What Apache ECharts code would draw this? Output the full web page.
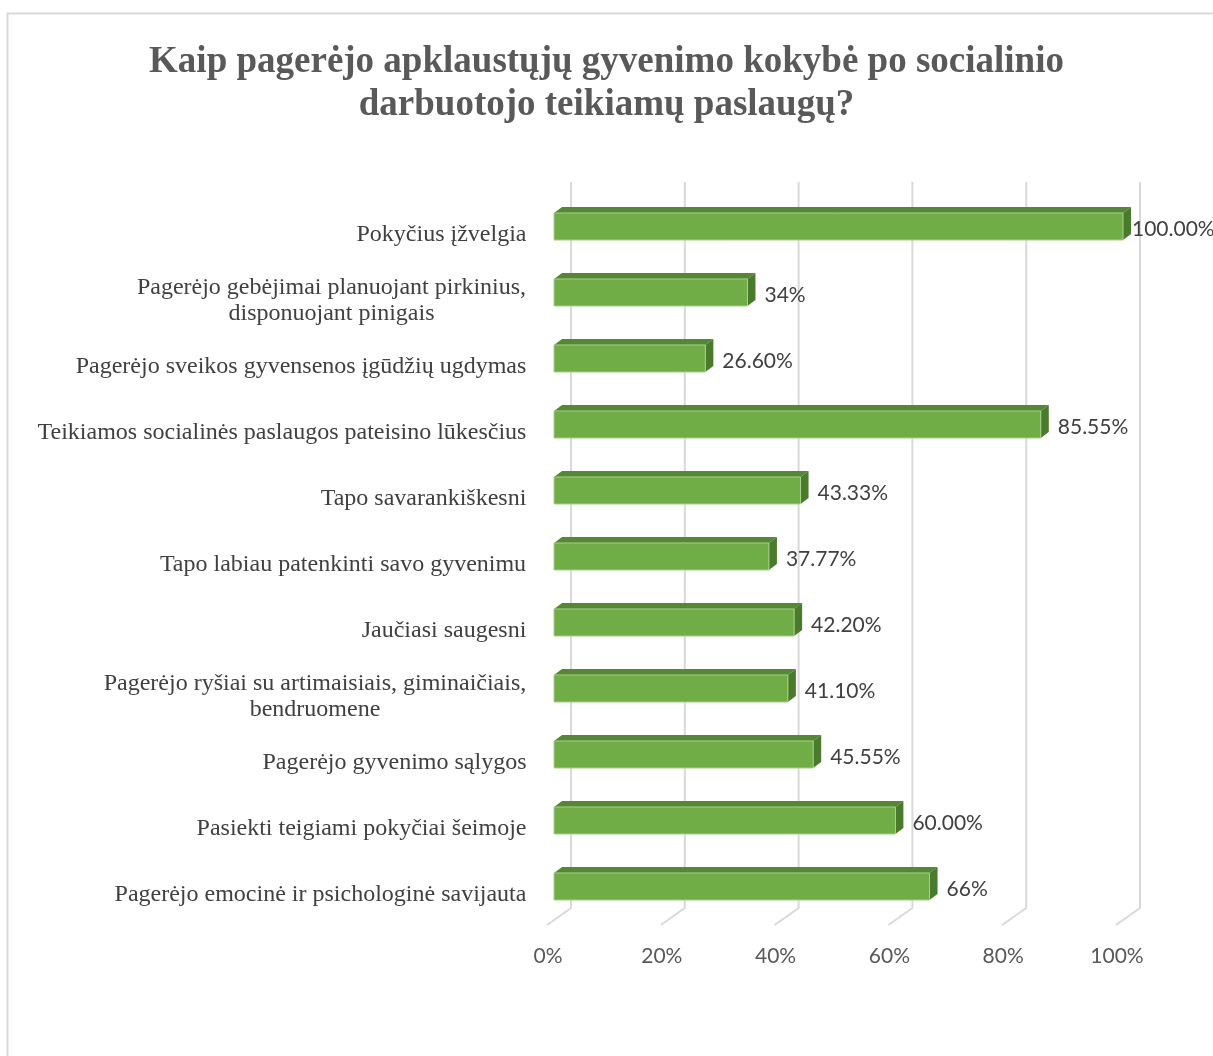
<!DOCTYPE html>
<html>
<head>
<meta charset="utf-8">
<script src="https://cdn.jsdelivr.net/npm/echarts@6/dist/echarts.min.js"></script>
<style>
html,body{margin:0;padding:0;background:#fff;}
#chart{width:1213px;height:1056px;}
</style>
</head>
<body>
<div id="chart"></div>
<script>
const categories = [
  'Pokyčius įžvelgia',
  'Pagerėjo gebėjimai planuojant pirkinius,\ndisponuojant pinigais',
  'Pagerėjo sveikos gyvensenos įgūdžių ugdymas',
  'Teikiamos socialinės paslaugos pateisino lūkesčius',
  'Tapo savarankiškesni',
  'Tapo labiau patenkinti savo gyvenimu',
  'Jaučiasi saugesni',
  'Pagerėjo ryšiai su artimaisiais, giminaičiais,\nbendruomene',
  'Pagerėjo gyvenimo sąlygos',
  'Pasiekti teigiami pokyčiai šeimoje',
  'Pagerėjo emocinė ir psichologinė savijauta'
];
const values = [1.00, 0.34, 0.266, 0.8555, 0.4333, 0.3777, 0.422, 0.411, 0.4555, 0.60, 0.66];
const valueLabels = ['100.00%', '34%', '26.60%', '85.55%', '43.33%', '37.77%', '42.20%', '41.10%', '45.55%', '60.00%', '66%'];
const ticks = [0, 0.2, 0.4, 0.6, 0.8, 1.0];
const tickLabels = ['0%', '20%', '40%', '60%', '80%', '100%'];
const titleText = 'Kaip pagerėjo apklaustųjų gyvenimo kokybė po socialinio\ndarbuotojo teikiamų paslaugų?';

const CAT_FONT = 24;
const CAT_FAMILY = '"Liberation Serif", "Times New Roman", serif';
const NUM_FAMILY = 'Lato, "Open Sans", sans-serif';

// measure multi-line label widths so lines can be centred within a right-aligned block
const ctx = document.createElement('canvas').getContext('2d');
ctx.font = CAT_FONT + 'px ' + CAT_FAMILY;
const rich = {};
categories.forEach((c, i) => {
  const lines = c.split('\n');
  const w = Math.max(...lines.map(l => ctx.measureText(l).width));
  rich['c' + i] = {
    width: Math.ceil(w) + 1, align: 'center',
    fontFamily: CAT_FAMILY, fontSize: CAT_FONT, color: '#404040', lineHeight: 26
  };
});

const chart = echarts.init(document.getElementById('chart'), null, {renderer: 'canvas'});

const option = {
  backgroundColor: '#ffffff',
  animation: false,
  graphic: [{
    type: 'rect', silent: true, z: -10,
    shape: {x: 7.5, y: 13.5, width: 1300, height: 1200},
    style: {fill: 'none', stroke: '#d9d9d9', lineWidth: 2}
  }],
  title: {
    text: titleText,
    left: 'center', top: 36,
    textStyle: {
      fontFamily: CAT_FAMILY, fontWeight: 'bold', fontSize: 37,
      color: '#595959', lineHeight: 43
    }
  },
  grid: {left: 554, width: 569, top: 193.5, height: 726, containLabel: false},
  xAxis: {
    type: 'value', min: 0, max: 1, interval: 0.2,
    axisLine: {show: false}, axisTick: {show: false}, splitLine: {show: false},
    axisLabel: {
      margin: 26, padding: [0, 12, 0, 0],
      fontFamily: NUM_FAMILY, fontSize: 21, color: '#595959',
      formatter: v => {
        const k = ticks.findIndex(t => Math.abs(t - v) < 1e-6);
        return k >= 0 ? tickLabels[k] : '';
      }
    }
  },
  yAxis: {
    type: 'category', inverse: true, data: categories,
    axisLine: {show: false}, axisTick: {show: false}, splitLine: {show: false},
    axisLabel: {
      margin: 27, padding: [16, 0, 0, 0], align: 'right',
      fontFamily: CAT_FAMILY, fontSize: CAT_FONT, color: '#404040', lineHeight: 26,
      formatter: (v, i) => v.split('\n').map(l => '{c' + i + '|' + l + '}').join('\n'),
      rich: rich
    }
  },
  series: [
    {
      type: 'custom', name: 'grid', silent: true, z: 1,
      data: ticks.map(t => [t, 0]),
      renderItem: (params, api) => {
        const cs = params.coordSys;
        const x = api.coord([api.value(0), 0])[0];
        const top = cs.y - 11.5, bot = cs.y + cs.height - 11.5, floor = cs.y + cs.height + 5.5;
        return {
          type: 'polyline',
          shape: {points: [[x + 17, top], [x + 17, bot], [x - 7, floor]]},
          style: {stroke: '#d9d9d9', lineWidth: 2, fill: 'none'}
        };
      }
    },
    {
      type: 'custom', name: 'bars', z: 5,
      data: values.map((v, i) => [v, i]),
      renderItem: (params, api) => {
        const v = api.value(0), i = api.value(1);
        const p0 = api.coord([0, i]);
        const p1 = api.coord([v, i]);
        const band = api.size([0, 1])[1];
        const bh = band * 0.41;
        const dx = 8, dy = 6;
        const x0 = p0[0], x1 = p1[0];
        const y0 = p1[1] - bh / 2, y1 = y0 + bh;
        const lx = Math.min(x1 + 17, 1132);
        return {
          type: 'group',
          children: [
            {type: 'polygon', shape: {points: [[x0, y0], [x0 + dx, y0 - dy], [x1 + dx, y0 - dy], [x1, y0]]},
             style: {fill: '#568735'}},
            {type: 'polygon', shape: {points: [[x1, y0], [x1 + dx, y0 - dy], [x1 + dx, y1 - dy], [x1, y1]]},
             style: {fill: '#4a7a2c'}},
            {type: 'rect', shape: {x: x0, y: y0, width: x1 - x0, height: bh},
             style: {fill: '#70ad47', stroke: '#a8d08d', lineWidth: 1}},
            {type: 'text', x: lx, y: p1[1] + 3,
             style: {text: valueLabels[params.dataIndex], fontFamily: NUM_FAMILY, fontSize: 21,
                     fill: '#404040', textAlign: 'left', textVerticalAlign: 'middle'}}
          ]
        };
      }
    }
  ]
};
chart.setOption(option);
</script>
</body>
</html>
